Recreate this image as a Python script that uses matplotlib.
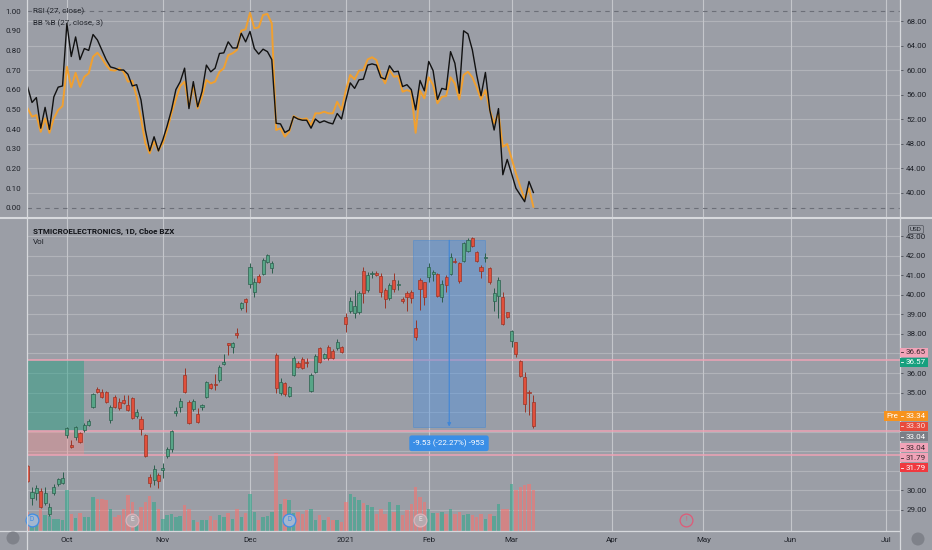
import matplotlib
matplotlib.use('Agg')
import matplotlib.pyplot as plt
import matplotlib.transforms as mtransforms
from matplotlib.patches import Rectangle, Circle
from matplotlib.lines import Line2D
import numpy as np

plt.rcParams['font.family'] = ['Roboto', 'DejaVu Sans']

# ---- daily candles, Sep 18 2020 .. Mar 8 2021 (bar index 0..116) ----
opens = [31.24, 29.59, 29.85, 29.98, 29.34, 28.79, 29.88, 30.32, 30.36, 32.83,
         32.32, 32.71, 32.91, 33.08, 33.34, 34.24, 35.16, 35.04, 35.04, 33.59,
         34.75, 34.53, 34.62, 34.36, 34.70, 33.82, 33.63, 32.83, 30.66, 30.53,
         30.81, 31.04, 31.75, 32.11, 33.94, 34.28, 35.90, 34.52, 34.14, 33.88,
         34.24, 34.79, 35.42, 35.44, 35.64, 36.46, 37.52, 37.35, 38.03, 39.31,
         39.77, 40.55, 40.16, 40.96, 41.06, 41.66, 41.35, 36.92, 34.96, 35.47,
         34.82, 35.90, 36.50, 36.72, 36.55, 35.08, 36.07, 37.26, 36.78, 37.35,
         37.13, 37.30, 37.31, 38.85, 39.17, 39.05, 39.10, 41.22, 40.25, 41.06,
         41.10, 40.98, 40.25, 39.82, 40.76, 40.48, 39.77, 40.08, 40.13, 38.29,
         40.76, 40.64, 40.93, 41.05, 41.06, 39.90, 40.93, 41.05, 41.73, 41.64,
         41.73, 42.24, 42.89, 42.17, 41.44, 41.91, 41.35, 39.68, 39.96, 39.90,
         39.10, 37.64, 37.57, 36.61, 35.81, 35.05, 34.50]
highs = [31.30, 30.19, 30.27, 30.12, 30.19, 29.34, 30.30, 30.65, 30.95, 33.25,
         32.57, 33.30, 33.00, 33.42, 33.65, 34.98, 35.30, 35.20, 35.10, 34.35,
         34.90, 34.70, 34.87, 34.87, 34.78, 34.14, 33.80, 32.90, 30.83, 31.29,
         30.87, 31.38, 32.23, 33.08, 34.28, 34.70, 36.24, 34.60, 34.68, 34.19,
         34.41, 35.60, 35.50, 35.95, 36.40, 36.97, 37.55, 37.60, 38.28, 39.65,
         39.82, 41.61, 40.84, 41.05, 41.86, 42.09, 41.74, 37.00, 35.73, 35.55,
         35.35, 36.88, 36.60, 36.80, 36.75, 35.98, 36.95, 37.35, 37.05, 37.45,
         37.25, 37.75, 37.40, 39.05, 39.90, 40.25, 40.20, 41.44, 41.18, 41.22,
         41.20, 41.10, 40.33, 40.59, 41.10, 40.76, 39.90, 40.19, 40.25, 38.71,
         40.84, 40.67, 41.61, 41.27, 41.10, 40.76, 41.01, 42.12, 41.87, 41.70,
         42.72, 42.89, 42.97, 42.24, 41.52, 42.12, 41.44, 40.33, 40.93, 40.16,
         39.14, 38.20, 37.60, 36.67, 36.07, 35.13, 34.87]
lows = [30.45, 29.25, 29.50, 29.10, 29.25, 28.69, 29.75, 30.20, 30.30, 32.66,
        32.15, 32.60, 32.40, 33.00, 33.28, 34.20, 34.96, 34.70, 34.45, 33.45,
        34.20, 34.10, 34.42, 34.05, 33.65, 33.68, 32.83, 31.70, 30.18, 30.27,
        30.10, 30.61, 31.63, 31.97, 33.82, 34.02, 35.00, 33.40, 34.05, 33.46,
        34.11, 34.70, 35.20, 35.13, 35.55, 36.41, 36.92, 37.00, 37.77, 39.22,
        39.14, 40.33, 39.90, 40.60, 41.01, 41.61, 41.13, 34.96, 34.87, 34.85,
        34.75, 35.85, 36.25, 36.20, 36.32, 35.05, 36.00, 36.50, 36.70, 36.65,
        36.70, 37.20, 37.00, 38.12, 39.05, 38.80, 39.00, 39.56, 40.16, 40.84,
        40.95, 39.90, 39.31, 39.74, 40.16, 40.25, 39.56, 39.17, 39.56, 37.69,
        39.22, 39.48, 40.67, 40.71, 39.90, 39.61, 40.16, 41.01, 41.61, 40.59,
        41.70, 42.21, 42.46, 41.70, 40.84, 41.70, 40.54, 39.17, 38.80, 38.46,
        38.80, 37.35, 36.84, 35.81, 34.02, 33.85, 33.20]
closes = [30.49, 29.93, 30.10, 29.16, 29.85, 29.13, 30.19, 30.56, 30.64, 33.17,
          32.20, 33.22, 32.49, 33.34, 33.56, 34.91, 35.03, 34.75, 34.50, 34.24,
          34.28, 34.19, 34.48, 34.11, 33.71, 34.02, 33.12, 31.75, 30.39, 31.07,
          30.47, 31.12, 32.11, 33.03, 34.05, 34.58, 35.04, 33.46, 34.58, 33.51,
          34.36, 35.52, 35.25, 35.37, 36.32, 36.54, 37.45, 37.52, 37.94, 39.56,
          39.65, 41.44, 40.67, 40.67, 41.78, 42.03, 41.61, 35.22, 35.56, 34.91,
          35.27, 36.79, 36.32, 36.27, 36.51, 35.90, 36.87, 36.58, 36.96, 36.75,
          36.75, 37.57, 37.09, 38.49, 39.68, 39.43, 40.08, 40.08, 41.01, 41.10,
          41.01, 40.16, 39.79, 40.50, 40.30, 40.52, 39.68, 39.90, 39.82, 37.82,
          40.30, 39.90, 41.44, 41.18, 39.96, 40.54, 40.50, 41.95, 41.66, 40.71,
          42.63, 42.80, 42.50, 41.75, 41.22, 41.95, 40.64, 40.08, 40.76, 38.51,
          38.85, 38.15, 36.95, 35.86, 34.40, 35.00, 33.30]
# volume, thousands of shares
volumes = [570, 420, 470, 670, 470, 440, 370, 370, 340, 1220,
           520, 400, 540, 420, 420, 1020, 970, 970, 940, 670,
           420, 470, 670, 1070, 870, 470, 720, 870, 1040, 870,
           670, 370, 470, 500, 420, 440, 770, 670, 320, 270,
           320, 340, 440, 320, 470, 420, 540, 370, 670, 420,
           540, 1120, 570, 340, 420, 440, 570, 2340, 820, 970,
           920, 540, 570, 520, 640, 670, 320, 470, 320, 420,
           340, 320, 270, 870, 1120, 1020, 920, 840, 770, 720,
           520, 670, 520, 870, 570, 770, 470, 620, 820, 1320,
           1020, 870, 670, 540, 540, 570, 520, 670, 520, 570,
           470, 520, 470, 420, 500, 370, 520, 440, 800, 670,
           670, 1420, 1220, 1320, 1390, 1400, 1240]
# RSI(27) and BB %B(27, 3)
rsi = [57.2, 54.7, 55.5, 50.5, 53.9, 50.3, 55.6, 57.2, 57.4, 67.6,
       62.2, 65.4, 61.7, 63.5, 63.2, 65.8, 64.9, 63.3, 61.7, 60.5,
       60.3, 60.0, 60.0, 59.3, 57.4, 57.6, 55.1, 50.2, 46.8, 49.1,
       46.8, 48.6, 50.9, 53.5, 56.8, 58.1, 60.3, 53.7, 58.1, 54.0,
       56.5, 60.8, 59.7, 60.3, 62.7, 62.8, 64.6, 63.6, 63.6, 66.0,
       64.6, 66.3, 63.5, 62.6, 63.4, 63.0, 61.7, 51.3, 51.2, 49.8,
       50.2, 52.4, 52.0, 51.8, 51.8, 50.5, 52.0, 51.4, 51.7, 51.4,
       51.2, 52.9, 52.0, 55.1, 57.9, 57.0, 58.4, 58.5, 60.8, 61.0,
       60.8, 58.8, 58.5, 60.7, 59.7, 59.8, 57.3, 57.6, 56.8, 53.5,
       58.3, 56.6, 61.4, 59.9, 55.2, 57.0, 56.8, 63.0, 61.1, 56.2,
       66.4, 65.9, 63.3, 59.2, 55.8, 59.6, 53.5, 50.2, 53.7, 42.9,
       45.4, 43.1, 40.7, 39.6, 38.5, 41.8, 40.0]
pct_b = [0.505, 0.463, 0.471, 0.386, 0.454, 0.381, 0.454, 0.497, 0.517, 0.717,
         0.612, 0.686, 0.615, 0.666, 0.683, 0.768, 0.788, 0.760, 0.725, 0.700,
         0.697, 0.709, 0.691, 0.641, 0.646, 0.564, 0.454, 0.327, 0.277, 0.336,
         0.290, 0.327, 0.395, 0.480, 0.551, 0.619, 0.641, 0.513, 0.624, 0.505,
         0.564, 0.649, 0.632, 0.641, 0.691, 0.709, 0.776, 0.785, 0.802, 0.900,
         0.907, 0.991, 0.912, 0.917, 0.980, 0.985, 0.937, 0.395, 0.404, 0.361,
         0.386, 0.466, 0.454, 0.449, 0.454, 0.420, 0.480, 0.480, 0.488, 0.480,
         0.480, 0.539, 0.497, 0.598, 0.675, 0.653, 0.697, 0.700, 0.754, 0.765,
         0.751, 0.675, 0.632, 0.700, 0.666, 0.670, 0.590, 0.598, 0.590, 0.381,
         0.595, 0.556, 0.663, 0.624, 0.531, 0.564, 0.568, 0.663, 0.632, 0.551,
         0.675, 0.691, 0.663, 0.612, 0.551, 0.598, 0.497, 0.429, 0.480, 0.310,
         0.324, 0.251, 0.175, 0.107, 0.043, 0.099, 0.005]

month_pos = [9, 31, 51, 73, 92, 111, 134, 155, 175, 197]
month_lbl = ['Oct', 'Nov', 'Dec', '2021', 'Feb', 'Mar', 'Apr', 'May', 'Jun', 'Jul']

# price scale labels (the ones hidden behind tags are left blank)
price_ticks = list(range(29, 44))
hidden_ticks = [31, 32, 33, 34, 37]

# drawings
pos_start, pos_end = -0.2, 12.9
pos_target, pos_entry, pos_stop = 36.65, 33.04, 31.79
level_lines = [36.65, 33.04, 31.79]
meas_x0, meas_x1, meas_arrow_x = 88.3, 105.0, 96.7
meas_hi, meas_lo = 42.79, 33.26
meas_text = '-9.53 (-22.27%) -953'
div_bars = [1, 60]
earn_bars = [24, 90]
earn_next = [151]

# right-scale tags: text, value, face, text colour, shift px, left px
tags = [('36.65', 36.65, '#f1a3b8', '#3b2a30', -8, 900),
        ('36.57', 36.57, '#16a07e', 'white', 0.5, 900),
        ('Pre', 33.34, '#f7931e', 'white', -9, 884),
        ('33.30', 33.30, '#e94b3c', '#f7e0dd', 0.4, 900),
        ('33.04', 33.04, '#7b7e86', 'white', 5.6, 900),
        ('33.04', 33.04, '#f1a3b8', '#3b2a30', 16.9, 900),
        ('31.79', 31.79, '#f1a3b8', '#3b2a30', 2.5, 900),
        ('31.79', 31.79, '#f0393f', 'white', 12.5, 900)]
pre_value_text = '33.34'

BG = '#9b9ea6'
GRID = '#b1b3b9'
MONTH = '#c4c6cb'
EDGE = '#d7d9dd'
TXT = '#1f2229'
W, H = 932, 550
FS = 5.8

o = np.array(opens); c = np.array(closes)
hi = np.array(highs); lo = np.array(lows)
idx = np.arange(len(o))
up = c >= o


def px_rect(x0, y0, x1, y1):
    return [x0 / W, 1 - y1 / H, (x1 - x0) / W, (y1 - y0) / H]


fig = plt.figure(figsize=(W / 100, H / 100), dpi=100, facecolor=BG)

# ---------------- indicator pane ----------------
ax_b = fig.add_axes(px_rect(27, 0, 900, 217))
ax_r = ax_b.twinx()
ax_b.set_facecolor(BG)
ax_r.patch.set_visible(False)
for a in (ax_b, ax_r):
    a.set_xlim(-0.15, 200.1)
    for s in a.spines.values():
        s.set_visible(False)
ax_b.set_ylim(-0.047, 1.056)
ax_r.set_ylim(36.0, 71.43)

rsi_tr = mtransforms.blended_transform_factory(ax_b.transAxes, ax_r.transData)
for v in range(40, 69, 4):
    ax_b.plot([0, 1], [v, v], transform=rsi_tr, color=GRID, lw=0.8, zorder=0)
for m in month_pos:
    ax_b.axvline(m, color=MONTH, lw=0.8, zorder=0)
for v in (0.0, 1.0):
    ax_b.axhline(v, color='#6c6f78', lw=0.8, ls=(0, (4, 4)), zorder=1)

ax_b.plot(idx, pct_b, color='#f0a030', lw=1.4, zorder=2)
ax_r.plot(idx, rsi, color='#111111', lw=1.0, zorder=3)

ax_b.set_yticks(np.arange(0, 1.01, 0.1))
ax_b.set_yticklabels([f'{v:.2f}' for v in np.arange(0, 1.01, 0.1)])
ax_b.tick_params(axis='y', length=0, pad=4.0, labelsize=FS, labelcolor=TXT)
ax_b.tick_params(axis='x', bottom=False, labelbottom=False)
ax_r.set_yticks(range(40, 69, 4))
ax_r.set_yticklabels([f'{v:.2f}' for v in range(40, 69, 4)])
ax_r.tick_params(axis='y', length=2, width=0.6, color='#4c4f57', pad=2.5,
                 labelsize=FS, labelcolor=TXT)

# ---------------- price pane ----------------
ax_p = fig.add_axes(px_rect(27, 219, 900, 531))
ax_p.set_facecolor(BG)
for s in ax_p.spines.values():
    s.set_visible(False)
ax_p.set_xlim(-0.15, 200.1)
ax_p.set_ylim(27.92, 43.88)

for v in price_ticks:
    ax_p.axhline(v, color=GRID, lw=0.8, zorder=0)
for m in month_pos:
    ax_p.axvline(m, color=MONTH, lw=0.8, zorder=0)

# volume overlay, bottom quarter of the pane
vol = np.array(volumes, dtype=float)
vol_frac = vol / (vol.max() * 4.0)
vol_col = np.where(up, '#2aa889', '#ff6f6a')
ax_p.bar(idx, vol_frac, width=0.8, bottom=0, color=vol_col, alpha=0.55,
         transform=ax_p.get_xaxis_transform(), zorder=1)

# long position tool
ax_p.add_patch(Rectangle((pos_start, pos_entry), pos_end - pos_start, pos_target - pos_entry,
                         facecolor='#1f9e80', alpha=0.45, lw=0, zorder=1.5))
ax_p.add_patch(Rectangle((pos_start, pos_stop), pos_end - pos_start, pos_entry - pos_stop,
                         facecolor='#ff8a8a', alpha=0.35, lw=0, zorder=1.5))
for v in level_lines:
    ax_p.axhline(v, color='#eea3b5', lw=1.1, zorder=2)

# measure tool (box under the candles, arrow and label above)
ax_p.add_patch(Rectangle((meas_x0, meas_lo), meas_x1 - meas_x0, meas_hi - meas_lo,
                         facecolor='#4a90e2', alpha=0.42, edgecolor='#3f86d8', lw=0.7,
                         zorder=2.5))

# candles
face = np.where(up, '#57a587', '#e0503c')
edge = np.where(up, '#2c5f4d', '#9a3528')
ax_p.vlines(idx, lo, hi, colors=edge, lw=0.7, zorder=3)
ax_p.bar(idx, np.maximum(np.abs(c - o), 0.05), bottom=np.minimum(o, c), width=0.72,
         color=face, edgecolor=edge, linewidth=0.5, zorder=4)

ax_p.annotate('', xy=(meas_arrow_x, meas_lo), xytext=(meas_arrow_x, meas_hi),
              arrowprops=dict(arrowstyle='-|>', color='#3f86d8', lw=0.8,
                              mutation_scale=5, shrinkA=0, shrinkB=0), zorder=6)
ax_p.annotate(meas_text, xy=((meas_x0 + meas_x1) / 2, meas_lo), xytext=(0, -12),
              textcoords='offset points', ha='center', va='center', fontsize=FS,
              color='white', zorder=7,
              bbox=dict(boxstyle='round,pad=0.5,rounding_size=0.3', fc='#3a8ee6', ec='none'))

# dividend / earnings marks
ev_tr = ax_p.get_xaxis_transform()
for d in div_bars:
    ax_p.plot(d, 0.036, 'o', ms=9.2, mfc='#a3b6cf', mec='#3d8ce6', mew=0.9,
              transform=ev_tr, zorder=6, clip_on=False)
    ax_p.text(d, 0.036, 'D', transform=ev_tr, ha='center', va='center',
              fontsize=4.8, color='#3d8ce6', zorder=7)
for e in earn_bars:
    ax_p.plot(e, 0.036, 'o', ms=9.2, mfc='#b5a9ae', mec='#dcb3bb', mew=0.9,
              transform=ev_tr, zorder=6)
    ax_p.text(e, 0.036, 'E', transform=ev_tr, ha='center', va='center',
              fontsize=4.8, color='#ece4e6', zorder=7)
for e in earn_next:
    ax_p.plot(e, 0.036, 'o', ms=9.2, mfc='none', mec='#df5a78', mew=0.9,
              transform=ev_tr, zorder=6)
    ax_p.text(e, 0.036, '!', transform=ev_tr, ha='center', va='center',
              fontsize=4.8, color='#df5a78', zorder=7)

ax_p.yaxis.tick_right()
ax_p.set_yticks(price_ticks)
ax_p.set_yticklabels(['' if v in hidden_ticks else f'{v:.2f}' for v in price_ticks])
ax_p.tick_params(axis='y', length=2, width=0.6, color='#4c4f57', pad=2.5,
                 labelsize=FS, labelcolor=TXT)
ax_p.set_xticks(month_pos)
ax_p.set_xticklabels(month_lbl)
ax_p.tick_params(axis='x', length=0, pad=4.0, labelsize=FS, labelcolor=TXT)

# ---------------- frame lines ----------------
for x in (27, 900):
    fig.add_artist(Line2D([x / W, x / W], [0, 1], transform=fig.transFigure,
                          color=EDGE, lw=0.9, zorder=4))
fig.add_artist(Line2D([0, 1], [1 - 218 / H, 1 - 218 / H], transform=fig.transFigure,
                      color=EDGE, lw=1.5, zorder=4))
fig.add_artist(Line2D([0, 900 / W], [1 - 531 / H, 1 - 531 / H], transform=fig.transFigure,
                      color=EDGE, lw=0.9, zorder=4))

# price tags on right scale
ppu = 312 / (43.88 - 27.92)
tag_h = 9.2 / ppu
tag_base = mtransforms.blended_transform_factory(fig.transFigure, ax_p.transData)
for text, val, fc, tc, shift, x0 in tags:
    tr = tag_base + mtransforms.ScaledTranslation(0, -shift / 100, fig.dpi_scale_trans)
    fig.add_artist(Rectangle((x0 / W, val - tag_h / 2), (928 - x0) / W, tag_h,
                             transform=tr, facecolor=fc, edgecolor='none', zorder=5))
    fig.add_artist(Line2D([900.5 / W, 902.5 / W], [val, val], transform=tr,
                          color=tc, lw=0.6, zorder=6))
    if x0 < 900:
        fig.text((x0 + 2.5) / W, val, text, transform=tr, ha='left', va='center',
                 fontsize=FS, color=tc, zorder=6)
        fig.text(906 / W, val, pre_value_text, transform=tr, ha='left', va='center',
                 fontsize=FS, color=tc, zorder=6)
    else:
        fig.text(906 / W, val, text, transform=tr, ha='left', va='center',
                 fontsize=FS, color=tc, zorder=6)

# legends / titles
fig.text(33 / W, 1 - 11 / H, 'RSI (27, close)', va='center', fontsize=FS, color=TXT)
fig.text(33 / W, 1 - 23 / H, 'BB %B (27, close, 3)', va='center', fontsize=FS, color=TXT)
fig.text(33 / W, 1 - 231 / H, 'STMICROELECTRONICS, 1D, Cboe BZX', va='center',
         fontsize=FS, color='#121419', fontweight='bold')
fig.text(33 / W, 1 - 242 / H, 'Vol', va='center', fontsize=FS, color=TXT)
fig.text(916 / W, 1 - 229.5 / H, 'USD', ha='center', va='center', fontsize=4.6, color=TXT,
         zorder=6, bbox=dict(boxstyle='round,pad=0.25,rounding_size=0.25', fc=BG,
                             ec='#5d6068', lw=0.6))

# scale buttons in the corners
for cx, cy in ((13, 538), (918, 539)):
    fig.add_artist(Circle((cx / 100, (H - cy) / 100), 0.065, transform=fig.dpi_scale_trans,
                          facecolor='#7f828a', edgecolor='none', zorder=5))

fig.savefig('out.png', dpi=100, facecolor=BG)
